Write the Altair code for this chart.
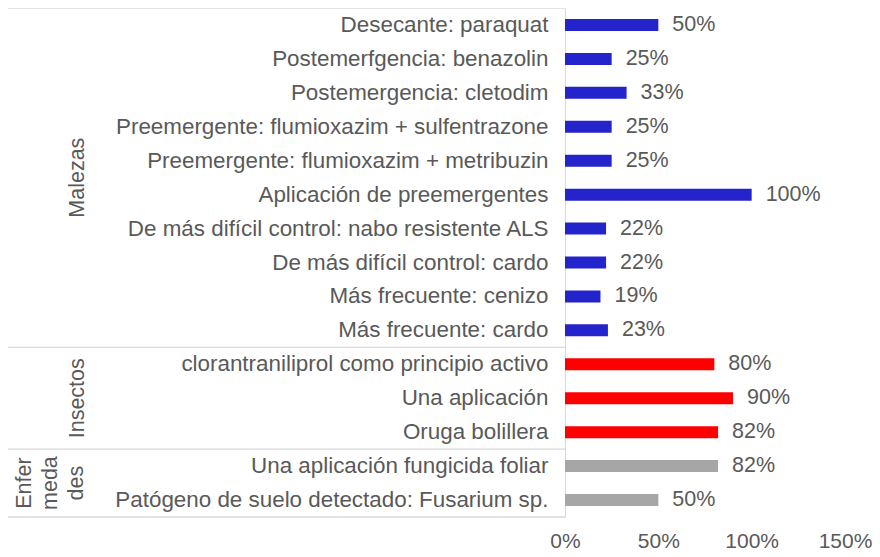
import altair as alt
import pandas as pd

categories = [
    "Desecante: paraquat",
    "Postemerfgencia: benazolin",
    "Postemergencia: cletodim",
    "Preemergente: flumioxazim + sulfentrazone",
    "Preemergente: flumioxazim + metribuzin",
    "Aplicación de preemergentes",
    "De más difícil control: nabo resistente ALS",
    "De más difícil control: cardo",
    "Más frecuente: cenizo",
    "Más frecuente: cardo",
    "clorantraniliprol como principio activo",
    "Una aplicación",
    "Oruga bolillera",
    "Una aplicación fungicida foliar",
    "Patógeno de suelo detectado: Fusarium sp.",
]
values = [0.50, 0.25, 0.33, 0.25, 0.25, 1.00, 0.22, 0.22, 0.19, 0.23,
          0.80, 0.90, 0.82, 0.82, 0.50]
groups = ["Malezas"] * 10 + ["Insectos"] * 3 + ["Enfermedades"] * 2
group_colors = {"Malezas": "#2424CC", "Insectos": "#FF0000", "Enfermedades": "#A6A6A6"}
x_ticks = [0, 0.5, 1.0, 1.5]

FONT = "Liberation Sans"
TXT = "#595959"
LINE = "#D9D9D9"
FS = 21.5
LEFT = 557

df = pd.DataFrame({"cat": categories, "val": values, "grp": groups})

y_enc = alt.Y("cat:N", sort=categories,
              scale=alt.Scale(paddingInner=0, paddingOuter=0),
              axis=alt.Axis(title=None, ticks=False, domain=True, domainColor=LINE,
                            labelFont=FONT, labelFontSize=22.4, labelColor=TXT,
                            labelLimit=700, labelPadding=17, grid=False))
x_enc = alt.X("val:Q", scale=alt.Scale(domain=[0, 1.5], nice=False),
              axis=alt.Axis(title=None, values=x_ticks, format=".0%", ticks=False,
                            domain=False, grid=False, labelFont=FONT, labelFontSize=21,
                            labelColor=TXT, labelPadding=13, labelFlush=False,
                            labelOverlap=False))

color_enc = alt.Color("grp:N",
                      scale=alt.Scale(domain=list(group_colors.keys()),
                                      range=list(group_colors.values())),
                      legend=None)

bars = alt.Chart(df).mark_bar(size=12).encode(x=x_enc, y=y_enc, color=color_enc)

labels = alt.Chart(df).mark_text(align="left", baseline="middle", dx=14,
                                 font=FONT, fontSize=FS, color=TXT).encode(
    x="val:Q", y=alt.Y("cat:N", sort=categories),
    text=alt.Text("val:Q", format=".0%"))

# group separator lines
starts = pd.DataFrame({"cat": [categories[0], categories[10], categories[13]]})
ends = pd.DataFrame({"cat": [categories[-1]]})
rule_start = alt.Chart(starts).mark_rule(color=LINE, strokeWidth=1.3).encode(
    y=alt.Y("cat:N", sort=categories, bandPosition=0),
    x=alt.value(-LEFT), x2=alt.value(0))
rule_end = alt.Chart(ends).mark_rule(color=LINE, strokeWidth=1.3).encode(
    y=alt.Y("cat:N", sort=categories, bandPosition=1),
    x=alt.value(-LEFT), x2=alt.value(0))

# group labels
g_boundary = pd.DataFrame({"cat": [categories[5]], "label": ["Malezas"]})
g_center = pd.DataFrame({"cat": [categories[11]], "label": ["Insectos"]})
g_enf = pd.DataFrame({"cat": [categories[14]], "label": ["Enfer\nmeda\ndes"]})

gl1 = alt.Chart(g_boundary).mark_text(angle=270, align="center", baseline="middle",
                                      font=FONT, fontSize=21.5, color=TXT).encode(
    y=alt.Y("cat:N", sort=categories, bandPosition=0), x=alt.value(70 - LEFT), text="label:N")
gl2 = alt.Chart(g_center).mark_text(angle=270, align="center", baseline="middle",
                                    font=FONT, fontSize=21.5, color=TXT).encode(
    y=alt.Y("cat:N", sort=categories, bandPosition=0.5), x=alt.value(70 - LEFT), text="label:N")
gl3 = alt.Chart(g_enf).mark_text(angle=270, align="center", baseline="middle",
                                 font=FONT, fontSize=21.5, color=TXT, lineBreak="\n",
                                 lineHeight=26).encode(
    y=alt.Y("cat:N", sort=categories, bandPosition=0), x=alt.value(17 - LEFT), text="label:N")

chart = alt.layer(rule_start, rule_end, bars, labels, gl1, gl2, gl3).properties(
    width=280, height=509,
    autosize=alt.AutoSizeParams(type="none"),
    padding={"left": LEFT, "top": 0, "right": 27, "bottom": 36},
).configure_view(stroke=None)

chart.save("out.html", embed_options={"renderer": "svg", "actions": False})
